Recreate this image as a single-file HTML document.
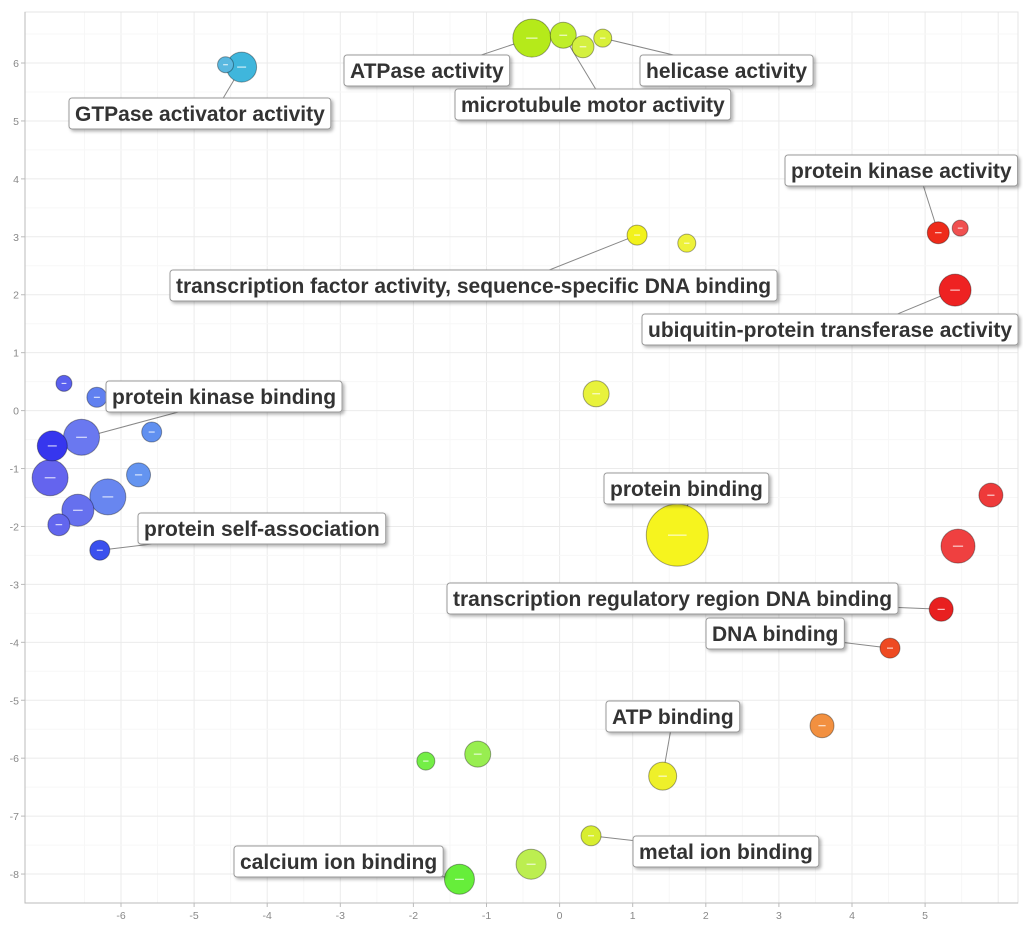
<!DOCTYPE html>
<html><head><meta charset="utf-8"><style>
html,body{margin:0;padding:0;background:#fff;width:1023px;height:926px;overflow:hidden}
svg{display:block;font-family:"Liberation Sans",sans-serif}
</style></head><body>
<svg id="chart" width="1023" height="926"></svg>
<script>
// data
const bx=[-0.38,0.05,0.32,0.59,-4.57,-4.35,1.06,1.74,5.18,5.48,5.41,-6.78,-6.33,-6.54,-6.94,-5.58,-6.97,-5.76,-6.18,-6.59,-6.85,-6.29,0.50,1.61,5.90,5.45,5.22,4.52,3.59,1.41,-1.83,-1.12,0.43,-0.39,-1.37];
const by=[6.43,6.48,6.28,6.43,5.97,5.93,3.03,2.89,3.07,3.15,2.08,0.47,0.23,-0.46,-0.61,-0.37,-1.16,-1.11,-1.49,-1.72,-1.97,-2.41,0.29,-2.15,-1.46,-2.34,-3.43,-4.10,-5.44,-6.31,-6.05,-5.93,-7.34,-7.83,-8.09];
const bsize=[19,13,11,9,8,15,10,9,11,8,16,8,10,18,15,10,18,12,18,16,11,10,13,31,12,17,12,10,12,14,9,13,10,15,15];
const bcolor=["#b5ea1a","#bfee2a","#d4f040","#d8f03a","#5ab8e0","#3fb6dc","#f2f21c","#eef23a","#ee2b1a","#f05050","#ee2222","#5a60ee","#6080f0","#6a78f0","#3636ee","#6090f0","#6464ee","#6494f0","#6886f0","#6670ee","#6266ee","#3a50ee","#e8f23c","#f6f41e","#ee3a3a","#ef4040","#e82020","#ee4a22","#f29040","#eef02a","#74ee46","#98ee50","#d8ee30","#bcee50","#66ee3a"];
const xTicks=[-6,-5,-4,-3,-2,-1,0,1,2,3,4,5];
const yTicks=[6,5,4,3,2,1,0,-1,-2,-3,-4,-5,-6,-7,-8];
const labelText=["ATPase activity","helicase activity","microtubule motor activity","GTPase activator activity","protein kinase activity","transcription factor activity, sequence-specific DNA binding","ubiquitin-protein transferase activity","protein kinase binding","protein binding","protein self-association","transcription regulatory region DNA binding","DNA binding","ATP binding","metal ion binding","calcium ion binding"];
const labelTarget=[0,3,1,5,8,6,10,14,23,21,26,27,29,32,34];
// layout (pixels)
const L=[[344,55],[640,55],[455,89],[69,98],[785,155],[170,270],[642,314],[106,381],[604,473],[138,513],[447,583],[706,618],[606,701],[633,836],[234,846]];
const X=v=>559.6+v*73.1, Y=v=>410.6-v*57.93;
const NS="http://www.w3.org/2000/svg", svg=document.getElementById('chart');
function mk(t,a,p){const e=document.createElementNS(NS,t);for(const k in a)e.setAttribute(k,a[k]);(p||svg).appendChild(e);return e;}
const defs=mk('defs',{});
const f=mk('filter',{id:'sh',x:'-10%',y:'-20%',width:'130%',height:'160%'},defs);
mk('feDropShadow',{dx:2,dy:2,stdDeviation:1.5,'flood-color':'#000','flood-opacity':0.3},f);
const grid=mk('g',{});


for(let v=-6.5;v<=6;v+=0.5){if(X(v)>25&&X(v)<1018)mk('line',{x1:X(v),x2:X(v),y1:12,y2:903,stroke:Number.isInteger(v)?'#ebebeb':'#f7f7f7'},grid);}
for(let v=-8.5;v<=6.5;v+=0.5){if(Y(v)>12&&Y(v)<903)mk('line',{x1:25,x2:1018,y1:Y(v),y2:Y(v),stroke:Number.isInteger(v)?'#ebebeb':'#f7f7f7'},grid);}
mk('rect',{x:25,y:12,width:993,height:891,fill:'none',stroke:'#e4e4e4'});
mk('polyline',{points:'25,12 25,903 1018,903',fill:'none',stroke:'#bbb'});
xTicks.forEach(v=>{mk('line',{x1:X(v),x2:X(v),y1:903,y2:907,stroke:'#bbb'});
 const t=mk('text',{x:X(v),y:919,'text-anchor':'middle','font-size':10.5,fill:'#888'});t.textContent=v;
 
 });
yTicks.forEach(v=>{mk('line',{x1:21,x2:25,y1:Y(v),y2:Y(v),stroke:'#bbb'});
 const t=mk('text',{x:19,y:Y(v)+4,'text-anchor':'end','font-size':10.5,fill:'#888'});t.textContent=v;
 
 });
// leader lines
const lines=mk('g',{});
labelText.forEach((s,i)=>{const b=labelTarget[i];const w=s.length*11.1+12;const cx=L[i][0]+w/2,cy=L[i][1]+16;
 const ln=mk('line',{x1:cx,y1:cy,x2:X(bx[b]),y2:Y(by[b]),stroke:'#888','stroke-width':1},lines);
 
 });
// bubbles (largest first)
const idx=bx.map((_,i)=>i).sort((a,b)=>bsize[b]-bsize[a]);
idx.forEach(i=>{const g=mk('g',{});
 
 
 mk('circle',{cx:X(bx[i]),cy:Y(by[i]),r:bsize[i],fill:bcolor[i],stroke:'rgba(0,0,0,0.35)','stroke-width':1},g);
 const w=Math.max(4,bsize[i]*0.6);
 mk('line',{x1:X(bx[i])-w/2,x2:X(bx[i])+w/2,y1:Y(by[i]),y2:Y(by[i]),stroke:'rgba(255,255,255,0.9)','stroke-width':1},g);});
// labels
labelText.forEach((s,i)=>{const g=mk('g',{});
 
 
 const t=mk('text',{x:L[i][0]+6,y:L[i][1]+23,'font-size':21,'font-weight':'bold',fill:'#333'},g);t.textContent=s;
 const w=t.getComputedTextLength()+12;
 const r=mk('rect',{x:L[i][0],y:L[i][1],width:w,height:31,rx:3,fill:'#fff',stroke:'#999',filter:'url(#sh)'});
 g.insertBefore(r,t);});
</script>
</body></html>
